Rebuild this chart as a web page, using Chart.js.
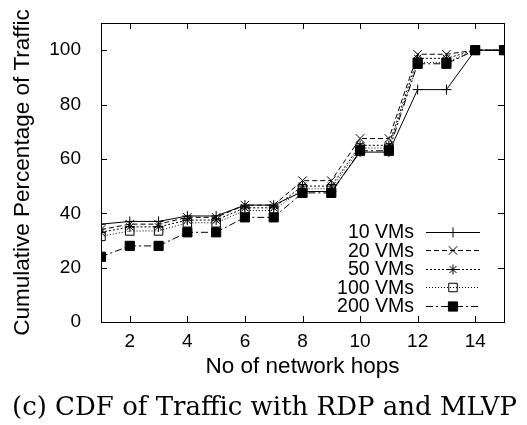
<!DOCTYPE html>
<html>
<head>
<meta charset="utf-8">
<script src="https://cdn.jsdelivr.net/npm/chart.js@4.4.1/dist/chart.umd.min.js"></script>
<style>
  html, body { margin: 0; padding: 0; background: #fff; }
  #wrap { position: relative; width: 527px; height: 425px; }
</style>
</head>
<body>
<div id="wrap"><canvas id="cdfChart"></canvas></div>
<script>
// hop counts on the x axis
var hops = [1, 2, 3, 4, 5, 6, 7, 8, 9, 10, 11, 12, 13, 14, 15];

// cumulative % of traffic per hop count, one array per VM count
var vm10  = [36, 37, 37, 39, 39, 43, 43, 48, 48, 62.5, 62.5, 85.5, 85.5, 100, 100];
var vm20  = [34, 36, 36, 38.5, 38.5, 43, 43, 52, 52, 67.5, 67.5, 98.5, 98.5, 100, 100];
var vm50  = [33, 35, 35, 37.5, 37.5, 42, 42, 50, 50, 65, 65, 97, 97, 100, 100];
var vm100 = [31.5, 33.5, 33.5, 36.5, 36.5, 41, 41, 49, 49, 64, 64, 95.5, 95.5, 100, 100];
var vm200 = [24, 28, 28, 33, 33, 38.5, 38.5, 47.5, 47.5, 63, 63, 95, 95, 100, 100];

var seriesNames = ["10 VMs", "20 VMs", "50 VMs", "100 VMs", "200 VMs"];
var xTicks = [2, 4, 6, 8, 10, 12, 14];
var yTicks = [0, 20, 40, 60, 80, 100];

var sans = "'Liberation Sans', Arial, sans-serif";

function pts(values) {
  return hops.map(function(h, i) {
    return { x: h, y: values[i] };
  });
}

function series(label, values, dash, style, radius, fill, order) {
  return {
    label: label,
    data: pts(values),
    borderColor: "#000",
    borderWidth: 1,
    borderDash: dash,
    pointStyle: style,
    pointRadius: radius,
    pointBorderColor: "#000",
    pointBorderWidth: 1,
    pointBackgroundColor: fill,
    tension: 0,
    fill: false,
    order: order
  };
}

// gnuplot-style frame with inward ticks on all four sides
var framePlugin = {
  id: "frame",
  afterDatasetsDraw: function(chart) {
    var ctx = chart.ctx;
    var a = chart.chartArea;
    var xs = chart.scales.x, ys = chart.scales.y;
    var len = 6;
    ctx.save();
    ctx.strokeStyle = "#000";
    ctx.lineWidth = 1;
    ctx.strokeRect(a.left + 0.5, a.top + 0.5, a.right - a.left, a.bottom - a.top);
    ctx.beginPath();
    xTicks.forEach(function(v) {
      var px = Math.round(xs.getPixelForValue(v)) + 0.5;
      ctx.moveTo(px, a.bottom); ctx.lineTo(px, a.bottom - len);
      ctx.moveTo(px, a.top); ctx.lineTo(px, a.top + len);
    });
    yTicks.forEach(function(v) {
      var py = Math.round(ys.getPixelForValue(v)) + 0.5;
      ctx.moveTo(a.left, py); ctx.lineTo(a.left + len, py);
      ctx.moveTo(a.right, py); ctx.lineTo(a.right - len, py);
    });
    ctx.stroke();
    ctx.restore();
  }
};

// key in the lower right: label, then line sample with marker
var keyPlugin = {
  id: "key",
  afterDraw: function(chart) {
    var ctx = chart.ctx;
    var a = chart.chartArea;
    var textRight = a.right - 90;
    var lineL = a.right - 78, lineR = a.right - 24;
    var rowH = 18.6;
    var lastY = a.bottom - 16;
    var n = chart.data.datasets.length;
    ctx.save();
    ctx.font = "19.5px " + sans;
    ctx.fillStyle = "#000";
    ctx.textAlign = "right";
    ctx.textBaseline = "middle";
    chart.data.datasets.forEach(function(ds, i) {
      var y = lastY - (n - 1 - i) * rowH;
      ctx.fillText(ds.label, textRight, y + 1);
      ctx.save();
      ctx.strokeStyle = "#000";
      ctx.lineWidth = 1;
      ctx.setLineDash(ds.borderDash);
      ctx.beginPath();
      ctx.moveTo(lineL, Math.round(y) + 0.5);
      ctx.lineTo(lineR, Math.round(y) + 0.5);
      ctx.stroke();
      ctx.restore();
      ctx.save();
      ctx.strokeStyle = "#000";
      ctx.fillStyle = ds.pointBackgroundColor;
      ctx.lineWidth = 1;
      Chart.helpers.drawPoint(ctx, {
        pointStyle: ds.pointStyle,
        radius: ds.pointRadius,
        rotation: 0,
        borderWidth: 1
      }, (lineL + lineR) / 2, Math.round(y) + 0.5);
      ctx.restore();
    });
    ctx.restore();
  }
};

// figure caption under the plot
var captionPlugin = {
  id: "caption",
  afterDraw: function(chart) {
    var ctx = chart.ctx;
    ctx.save();
    ctx.font = "26px 'DejaVu Serif', serif";
    ctx.fillStyle = "#000";
    ctx.textAlign = "center";
    ctx.textBaseline = "alphabetic";
    ctx.fillText("(c) CDF of Traffic with RDP and MLVP", chart.width / 2 + 1, 415);
    ctx.restore();
  }
};

var ctx = document.getElementById("cdfChart");
var chart = new Chart(ctx, {
  type: "line",
  data: {
    datasets: [
      series(seriesNames[0], vm10, [], "cross", 5, "#000", 5),
      series(seriesNames[1], vm20, [5, 3], "crossRot", 6, "#000", 4),
      series(seriesNames[2], vm50, [2, 2], "star", 5, "#000", 3),
      series(seriesNames[3], vm100, [1, 2], "rect", 6, "rgba(0,0,0,0)", 2),
      series(seriesNames[4], vm200, [7, 3, 2, 3], "rect", 6.5, "#000", 1)
    ]
  },
  options: {
    responsive: true,
    maintainAspectRatio: false,
    animation: false,
    layout: { padding: { left: 0, right: 23, top: 23, bottom: 45 } },
    plugins: {
      legend: { display: false },
      tooltip: { enabled: false }
    },
    scales: {
      x: {
        type: "linear",
        min: 1,
        max: 15,
        grid: { display: false, drawTicks: false },
        border: { display: false },
        afterBuildTicks: function(scale) {
          scale.ticks = xTicks.map(function(v) { return { value: v }; });
        },
        afterFit: function(scale) {
          scale.height = 58;
          scale.paddingLeft = 0;
          scale.paddingRight = 0;
        },
        ticks: {
          color: "#000",
          font: { family: sans, size: 19 },
          padding: 8,
          maxRotation: 0
        },
        title: {
          display: true,
          text: "No of network hops",
          color: "#000",
          font: { family: sans, size: 22.5 },
          padding: 0
        }
      },
      y: {
        type: "linear",
        min: 0,
        max: 110,
        grid: { display: false, drawTicks: false },
        border: { display: false },
        afterBuildTicks: function(scale) {
          scale.ticks = yTicks.map(function(v) { return { value: v }; });
        },
        afterFit: function(scale) {
          scale.width = 101;
          scale.paddingTop = 0;
          scale.paddingBottom = 0;
        },
        ticks: {
          color: "#000",
          font: { family: sans, size: 19 },
          padding: 20
        },
        title: {
          display: true,
          text: "Cumulative Percentage of Traffic",
          color: "#000",
          font: { family: sans, size: 22.5 },
          padding: { top: 9, bottom: 0 }
        }
      }
    }
  },
  plugins: [framePlugin, keyPlugin, captionPlugin]
});
</script>
</body>
</html>
